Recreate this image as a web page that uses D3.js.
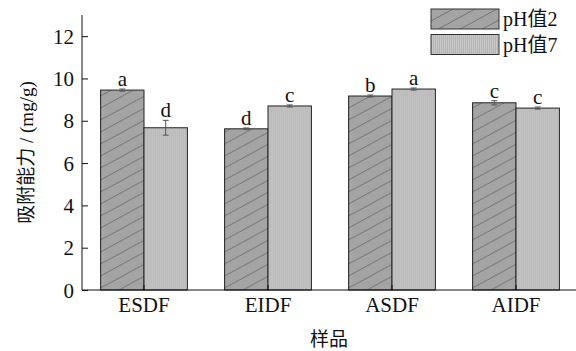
<!DOCTYPE html>
<html>
<head>
<meta charset="utf-8">
<script src="https://cdn.jsdelivr.net/npm/d3@7"></script>
<style>
  body { margin: 0; background: #fff; }
  svg { display: block; }
</style>
</head>
<body>
<div id="chart"></div>
<script>
const samples = ['ESDF', 'EIDF', 'ASDF', 'AIDF']
const seriesNames = ['pH值2', 'pH值7']
const ph2Values = [9.45, 7.62, 9.17, 8.85]
const ph7Values = [7.67, 8.70, 9.50, 8.60]
const ph2Errors = [0.05, 0.04, 0.05, 0.1]
const ph7Errors = [0.35, 0.05, 0.05, 0.05]
const ph2Letters = ['a', 'd', 'b', 'c']
const ph7Letters = ['d', 'c', 'a', 'c']
const yTicks = [0, 2, 4, 6, 8, 10, 12]

const width = 576
const height = 351
const margin = { top: 15, right: -2, bottom: 61, left: 82 }
const serif = '"Liberation Serif", "Times New Roman", serif'
const mixed = '"Liberation Serif", "Noto Sans CJK SC", serif'
const cjk = '"Noto Sans CJK SC", sans-serif'

const svg = d3.select('#chart').append('svg')
    .attr('width', width)
    .attr('height', height)

const defs = svg.append('defs')

// diagonal hatch for pH 2
const hatch = defs.append('pattern')
    .attr('id', 'hatch')
    .attr('patternUnits', 'userSpaceOnUse')
    .attr('width', 22)
    .attr('height', 12)
hatch.append('rect').attr('width', 22).attr('height', 12).attr('fill', '#a4a4a4')
;['M-2,13 L24,-1', 'M-24,13 L2,-1', 'M20,13 L46,-1'].forEach(p => {
    hatch.append('path').attr('d', p).attr('stroke', '#6e6e6e').attr('stroke-width', 0.9)
})

// fine vertical stripes for pH 7
const stripes = defs.append('pattern')
    .attr('id', 'stripes')
    .attr('patternUnits', 'userSpaceOnUse')
    .attr('width', 2)
    .attr('height', 4)
stripes.append('rect').attr('width', 2).attr('height', 4).attr('fill', '#c8c8c8')
stripes.append('rect').attr('width', 1).attr('height', 4).attr('fill', '#b4b4b4')

const fills = ['url(#hatch)', 'url(#stripes)']

const x = d3.scaleBand()
    .domain(samples)
    .range([margin.left, width - margin.right])
    .paddingInner(0.3)
    .paddingOuter(0.15)

const x1 = d3.scaleBand()
    .domain([0, 1])
    .range([0, x.bandwidth()])

const y = d3.scaleLinear()
    .domain([0, 13])
    .range([height - margin.bottom, margin.top])

const rows = samples.map((s, i) => ({
    sample: s,
    bars: [
        { k: 0, value: ph2Values[i], err: ph2Errors[i], letter: ph2Letters[i] },
        { k: 1, value: ph7Values[i], err: ph7Errors[i], letter: ph7Letters[i] },
    ],
}))

const groups = svg.append('g').selectAll('g')
    .data(rows)
    .enter()
        .append('g')
        .attr('transform', d => `translate(${x(d.sample)},0)`)

const bars = groups.selectAll('g')
    .data(d => d.bars)
    .enter()
        .append('g')

bars.append('rect')
    .attr('x', d => x1(d.k))
    .attr('y', d => y(d.value))
    .attr('width', x1.bandwidth())
    .attr('height', d => y(0) - y(d.value))
    .attr('fill', d => fills[d.k])
    .attr('stroke', '#222')
    .attr('stroke-width', 1)

// error bars
const errPath = d => {
    const cx = x1(d.k) + x1.bandwidth() / 2
    const y0 = y(d.value - d.err)
    const y1 = y(d.value + d.err)
    return `M${cx - 3},${y1} H${cx + 3} M${cx},${y1} V${y0} M${cx - 3},${y0} H${cx + 3}`
}
bars.append('path')
    .attr('d', errPath)
    .attr('stroke', '#555')
    .attr('stroke-width', 1)
    .attr('fill', 'none')

bars.append('text')
    .attr('x', d => x1(d.k) + x1.bandwidth() / 2)
    .attr('y', d => y(d.value + d.err) - 3)
    .attr('text-anchor', 'middle')
    .attr('font-family', serif)
    .attr('font-size', 21)
    .attr('fill', '#111')
    .text(d => d.letter)

// axes
const yAxis = svg.append('g')
    .attr('transform', `translate(${margin.left},0)`)
    .call(d3.axisRight(y).tickValues(yTicks).tickSize(6).tickFormat(d3.format('d')))
    .attr('font-family', serif)
    .attr('font-size', 21)
yAxis.select('.domain').attr('d', `M0,${y(13)}V${y(0)}`).attr('stroke', '#111')
yAxis.selectAll('.tick line').attr('stroke', '#111')
yAxis.selectAll('.tick text')
    .attr('x', -8)
    .attr('dy', '0.34em')
    .attr('text-anchor', 'end')
    .attr('fill', '#111')

const xAxis = svg.append('g')
    .attr('transform', `translate(0,${y(0)})`)
    .call(d3.axisTop(x).tickSize(5).tickSizeOuter(0))
    .attr('font-family', serif)
    .attr('font-size', 21)
xAxis.select('.domain').attr('d', `M${margin.left},0H${width}`).attr('stroke', '#111').attr('stroke-width', 1.2)
xAxis.selectAll('.tick line').attr('stroke', '#111')
xAxis.selectAll('.tick text')
    .attr('y', 22)
    .attr('dy', '0')
    .attr('fill', '#111')

// axis titles
svg.append('text')
    .attr('transform', `translate(33,${(y(0) + y(13)) / 2}) rotate(-90)`)
    .attr('text-anchor', 'middle')
    .attr('font-family', mixed)
    .attr('font-size', 19)
    .attr('fill', '#111')
    .text('吸附能力 / (mg/g)')

svg.append('text')
    .attr('x', (margin.left + width) / 2)
    .attr('y', 346)
    .attr('text-anchor', 'middle')
    .attr('font-family', cjk)
    .attr('font-size', 19)
    .attr('fill', '#111')
    .text('样品')

// legend
const legend = svg.append('g')
    .attr('transform', 'translate(431,9)')
const items = legend.selectAll('g')
    .data(seriesNames)
    .enter()
        .append('g')
        .attr('transform', (d, i) => `translate(0,${i * 25.5})`)
items.append('rect')
    .attr('width', 68)
    .attr('height', 20)
    .attr('fill', (d, i) => fills[i])
    .attr('stroke', '#333')
items.append('text')
    .attr('x', 72)
    .attr('y', 17)
    .attr('font-family', mixed)
    .attr('font-size', 20)
    .attr('fill', '#111')
    .text(d => d)
</script>
</body>
</html>
